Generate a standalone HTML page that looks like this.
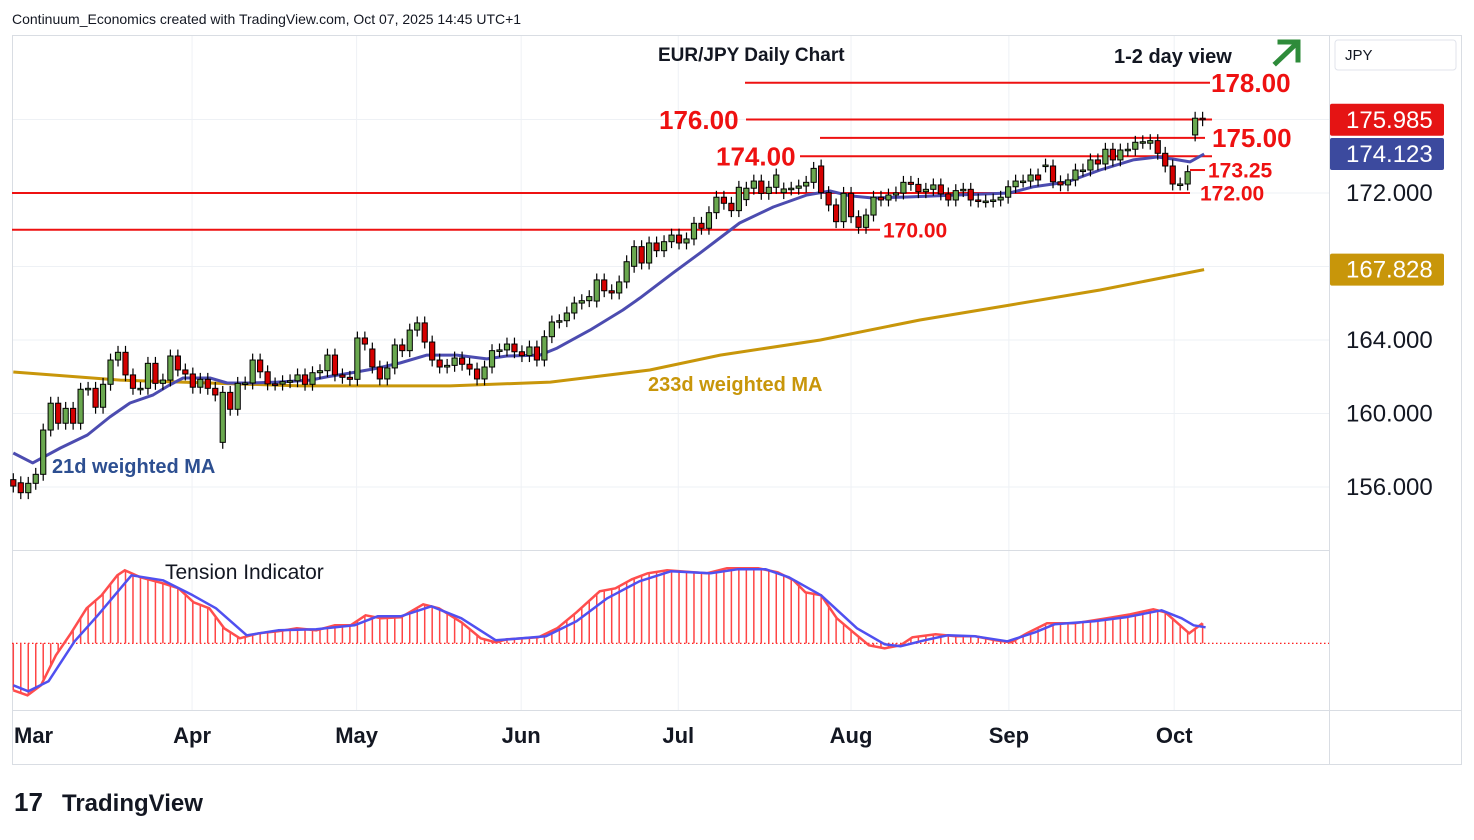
<!DOCTYPE html>
<html><head><meta charset="utf-8">
<style>
body{margin:0;background:#fff;width:1474px;height:840px;overflow:hidden;font-family:"Liberation Sans",sans-serif;}
svg{position:absolute;left:0;top:0}
</style></head>
<body>
<svg id="chart" width="1474" height="840" viewBox="0 0 1474 840">
<rect x="0" y="0" width="1474" height="840" fill="#fff"/>
<text x="12" y="24" font-size="14" fill="#131722">Continuum_Economics created with TradingView.com, Oct 07, 2025 14:45 UTC+1</text>
<g id="grid"></g>
<g stroke="#d9dde3" stroke-width="1" fill="none">
<rect x="12.5" y="35.5" width="1449" height="729"/>
<line x1="1329.5" y1="35" x2="1329.5" y2="765"/>
<line x1="12" y1="550.5" x2="1329" y2="550.5"/>
<line x1="12" y1="710.5" x2="1462" y2="710.5"/>
</g>
<g id="levels"></g>
<g id="mas"></g>
<g id="candles"></g>
<g id="tension"></g>
<g id="axis"></g>
<g id="months"></g>
<text x="658" y="61" font-size="19" font-weight="bold" fill="#131722">EUR/JPY Daily Chart</text>
<text x="1114" y="63" font-size="20" font-weight="bold" fill="#131722">1-2 day view</text>
<g stroke="#2e8b3a" stroke-width="5" fill="none" stroke-linecap="square">
<line x1="1276" y1="63" x2="1297" y2="43"/><polyline points="1280,42 1298,42 1298,60"/></g>
<text x="52" y="473" font-size="20" font-weight="bold" fill="#2d4f91">21d weighted MA</text>
<text x="648" y="391" font-size="20" font-weight="bold" fill="#c8960a">233d weighted MA</text>
<text x="165" y="579" font-size="21" fill="#131722">Tension Indicator</text>
<rect x="1335" y="40" width="121" height="30" rx="3" fill="#fff" stroke="#e0e3eb"/>
<text x="1345" y="60" font-size="15" fill="#131722">JPY</text>
<g>
<text x="14" y="811" font-size="26" font-weight="bold" fill="#131722">17</text>
<text x="62" y="811" font-size="24" font-weight="bold" fill="#131722">TradingView</text></g>
</svg>
<script>
const closes=[156.05,155.69,156.20,156.69,159.10,160.56,159.47,160.28,159.47,161.32,161.37,160.34,161.59,162.91,163.33,162.10,161.37,161.37,162.73,161.64,
161.82,163.13,162.37,162.15,161.43,161.86,161.37,161.01,161.15,160.23,161.64,161.66,162.91,162.27,161.61,161.60,161.73,161.78,162.10,161.59,
162.22,162.33,163.18,162.10,161.97,161.86,164.11,163.78,162.53,161.88,162.48,163.73,163.42,164.54,164.93,163.89,162.91,162.53,162.62,163.02,
162.68,162.42,161.88,162.53,163.42,163.46,163.78,163.36,163.15,163.62,162.91,164.18,164.98,165.05,165.47,166.01,166.14,166.36,167.27,166.68,
166.56,167.16,168.26,169.08,168.19,169.28,168.86,169.35,169.71,169.28,169.50,170.35,170.08,170.93,171.77,171.44,171.04,172.31,172.26,172.65,
171.98,172.31,172.98,172.22,172.26,172.38,172.58,173.34,172.02,171.35,170.44,171.98,170.71,170.13,170.80,171.77,171.62,171.89,172.00,172.58,
172.47,172.07,172.20,172.44,171.95,171.62,172.13,172.20,171.62,171.56,171.56,171.62,171.77,172.34,172.65,172.65,172.98,172.71,173.52,172.61,
172.44,172.71,173.25,173.25,173.80,173.58,174.38,173.80,174.34,174.38,174.76,174.79,174.85,174.16,173.47,172.49,172.49,173.16,176.07,175.985];
const openGaps={0:156.40,1:156.23,28:158.43,48:163.51,50:161.88,78:166.12,83:168.01,96:171.44,98:171.64,103:172.02,108:173.47,138:173.47,139:173.47,152:174.71,158:175.16};
const ma21Idx=[0,2.6,6.3,9.9,12.9,15.6,18.7,20.9,22.7,26.3,28.6,31.6,35.3,39.7,41.9,45,48.1,51.7,55.3,59.3,63.3,66,70.4,72.7,77.1,81.5,83.8,88.2,91.8,94.1,97.1,101.6,106.1,109.2,111.9,114.9,119.5,126.2,133.2,136.3,140.9,145.3,149.7,152.9,155,157.3,159.2];
const ma21Val=[157.85,157.31,158.12,158.83,159.81,160.57,161.01,161.55,161.93,161.93,161.66,161.66,161.71,161.82,161.99,162.2,162.42,162.75,163.18,163.18,162.97,163.13,163.18,163.56,164.54,165.63,166.29,167.65,168.73,169.44,170.37,171.24,171.89,172.11,171.84,171.73,171.78,171.89,172.00,172.33,172.60,173.25,173.80,173.96,173.85,173.69,174.12];
const ma233Idx=[0,14.3,38.3,58.4,71.8,85.1,94.5,107.9,121.2,133.2,145.3,159.2];
const ma233Val=[162.26,161.82,161.50,161.50,161.71,162.37,163.18,164.00,165.09,165.90,166.72,167.83];
const tenIdx=[0,1.9,3.7,5.7,7.7,9.8,11.8,13.9,14.9,17,20,22.1,24.1,26.2,28.2,30.3,32.8,35.4,37.9,40.5,43,45.1,47.1,49.2,51.8,54.8,56.9,59.9,62.5,64.5,66,70.2,72.7,75.3,78.4,80.5,82.7,84.8,87.4,92.7,95.4,99.6,102.2,104.3,105.9,108,110.1,112.3,114.4,116.5,118.6,120.2,123.3,126,128.6,131.3,133.4,135.5,138.2,141.9,146.1,149.3,152.4,154,157.2,159];
const tenVal=[-47,-52,-42,-12,10,35,48,68,73,66,60,55,41,35,15,5,10,12,15,13,18,18,28,25,26,39,35,21,5,1,4,6,15,31,52,55,64,70,73,70,75,75,71,63,51,48,25,11,-2,-5,-2,6,9,7,7,3,1,10,20,20,25,29,34,31,10,20];
const sigIdx=[0,2,4.7,8.2,11.3,15.8,20,24,27.1,31.2,35.4,40.5,45.6,48.7,51.8,55.9,59.9,64.5,71.2,75.3,79.4,83.7,87.9,93.2,96.8,100.6,103.7,108,112.8,116.5,118.6,121.8,124.9,128.6,132.9,136.6,139.2,144.5,148.7,153.5,156.2,157.8,159.4];
const sigVal=[-42,-48,-38,2,28,68,63,48,35,8,13,14,18,27,27,37,25,3,7,22,45,62,72,70,74,74,66,48,15,-1,-3,3,8,7,2,11,19,22,26,33,25,18,16];
const priceTicks=[172,164,160,156];
const gridPrices=[176,172,168,164,160,156];
const monthLabels=["Mar","Apr","May","Jun","Jul","Aug","Sep","Oct"];
const monthIdx=[0,23.9,45.9,67.9,88.9,112,133.1,155.2];
const levelPrices=[178,176,175,174,173.25,172,170];
const levelText=["178.00","176.00","175.00","174.00","173.25","172.00","170.00"];

const NS="http://www.w3.org/2000/svg";
const X=i=>13.3+i*7.48;
const Y=p=>193+(172-p)*18.375;
const TY=v=>643.3-v;
function mk(parent,tag,attrs){const e=document.createElementNS(NS,tag);for(const k in attrs)e.setAttribute(k,attrs[k]);document.getElementById(parent).appendChild(e);return e;}

gridPrices.forEach(p=>{const e=mk('grid','line',{x1:12,x2:1329,y1:Y(p),y2:Y(p),stroke:'#eef1f5','stroke-width':1});

});
monthIdx.forEach((m,k)=>{if(k===0)return;const x=X(m);const e=mk('grid','line',{x1:x,x2:x,y1:35,y2:710,stroke:'#eef1f5','stroke-width':1});

});

const lvlSpec=[[745,1210,1211,26],[746,1212,659,26],[820,1205,1212,26],[800,1212,716,26],[1190,1205,1208,21],[12,1190,1200,21],[12,880,883,21]];
levelPrices.forEach((p,k)=>{const s=lvlSpec[k];const y=Y(p);
const l=mk('levels','line',{x1:s[0],x2:s[1],y1:y,y2:y,stroke:'#ee1111','stroke-width':2});


const t=mk('levels','text',{x:s[2],y:y+s[3]*0.36,'font-size':s[3],'font-weight':'bold',fill:'#ee1111'});t.textContent=levelText[k];

});

function pl(idx,val,fn){return idx.map((i,k)=>X(i).toFixed(1)+','+fn(val[k]).toFixed(1)).join(' ');}
const m233=mk('mas','polyline',{points:pl(ma233Idx,ma233Val,Y),fill:'none',stroke:'#c8960a','stroke-width':3});


const m21=mk('mas','polyline',{points:pl(ma21Idx,ma21Val,Y),fill:'none',stroke:'#4c4cb0','stroke-width':3,'stroke-linejoin':'round'});



closes.forEach((c,i)=>{const o=(i in openGaps)?openGaps[i]:closes[i-1];const x=X(i);
const hi=Math.max(o,c)+0.35,lo=Math.min(o,c)-0.35;
const w=mk('candles','line',{x1:x,x2:x,y1:Y(hi),y2:Y(lo),stroke:'#000','stroke-width':1.2});


const top=Math.min(Y(o),Y(c)),h=Math.max(1.5,Math.abs(Y(o)-Y(c)));
const r=mk('candles','rect',{x:x-2.6,y:top,width:5.2,height:h,fill:c>=o?'#6aa84f':'#d50000',stroke:'#000','stroke-width':1});

});

const base=mk('tension','line',{x1:12,x2:1329,y1:643.3,y2:643.3,stroke:'#ff0000','stroke-width':1.2,'stroke-dasharray':'1.5,2.5'});


function interp(idx,val,i){for(let k=0;k<idx.length-1;k++){if(i>=idx[k]&&i<=idx[k+1]){const t=(i-idx[k])/(idx[k+1]-idx[k]);return val[k]+t*(val[k+1]-val[k]);}}return val[val.length-1];}
for(let i=0;i<closes.length;i++){const v=interp(tenIdx,tenVal,i);
const h=mk('tension','line',{x1:X(i),x2:X(i),y1:643.3,y2:TY(v),stroke:'#ff4444','stroke-width':1.5});

}
const tl=mk('tension','polyline',{points:pl(tenIdx,tenVal,TY),fill:'none',stroke:'#ff4d4d','stroke-width':2.5});


const sl=mk('tension','polyline',{points:pl(sigIdx,sigVal,TY),fill:'none',stroke:'#5050f0','stroke-width':2.5,'stroke-linejoin':'round'});



priceTicks.forEach(p=>{const t=mk('axis','text',{x:1346,y:Y(p)+8,'font-size':24,fill:'#131722'});t.textContent=p.toFixed(3);

});
const boxes=[[closes[closes.length-1],'#e51414',175.985],[ma21Val[ma21Val.length-1],'#3c4a9e',174.123],[ma233Val[ma233Val.length-1],'#c8960a',167.828]];
boxes.forEach(b=>{const y=Y(b[0]);
const r=mk('axis','rect',{x:1330,y:y-16,width:114,height:32,rx:2,fill:b[1]});


const t=mk('axis','text',{x:1346,y:y+8,'font-size':24,fill:'#fff'});t.textContent=b[2].toFixed(3);

});

monthLabels.forEach((m,k)=>{const x=X(monthIdx[k]);const t=mk('months','text',{x:k===0?14:x,y:743,'font-size':22,'font-weight':'bold','text-anchor':k===0?'start':'middle',fill:'#131722'});t.textContent=m;

});
</script>
</body></html>
